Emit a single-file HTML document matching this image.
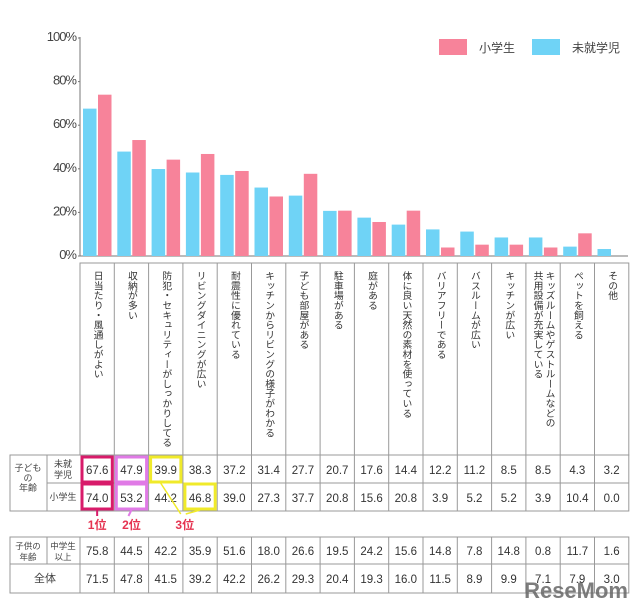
<!DOCTYPE html>
<html><head><meta charset="utf-8">
<style>
body{margin:0;background:#fff;}
svg text{font-family:"Liberation Sans","Noto Sans CJK JP",sans-serif;}
.vt{writing-mode:vertical-rl;font-size:9.8px;fill:#333;}
</style></head>
<body>
<svg id="c" width="640" height="605" viewBox="0 0 640 605" xmlns="http://www.w3.org/2000/svg"></svg>
<script>
const categories=["日当たり・風通しがよい","収納が多い","防犯・セキュリティーがしっかりしてる","リビングダイニングが広い","耐震性に優れている","キッチンからリビングの様子がわかる","子ども部屋がある","駐車場がある","庭がある","体に良い天然の素材を使っている","バリアフリーである","バスルームが広い","キッチンが広い","キッズルームやゲストルームなどの|共用設備が充実している","ペットを飼える","その他"];
const preschool=[67.6,47.9,39.9,38.3,37.2,31.4,27.7,20.7,17.6,14.4,12.2,11.2,8.5,8.5,4.3,3.2];
const elementary=[74.0,53.2,44.2,46.8,39.0,27.3,37.7,20.8,15.6,20.8,3.9,5.2,5.2,3.9,10.4,0.0];
const juniorHigh=[75.8,44.5,42.2,35.9,51.6,18.0,26.6,19.5,24.2,15.6,14.8,7.8,14.8,0.8,11.7,1.6];
const overall=[71.5,47.8,41.5,39.2,42.2,26.2,29.3,20.4,19.3,16.0,11.5,8.9,9.9,7.1,7.9,3.0];
const yTicks=[0,20,40,60,80,100];
const yTickLabels=["0%","20%","40%","60%","80%","100%"];

const svg=document.getElementById('c');
const NS='http://www.w3.org/2000/svg';
const X0=80,CW=34.3,Y0=256,YH=218;
const xCol=i=>X0+i*CW;
const yv=v=>Y0-v/100*YH;
function mk(tag,attrs,parent){const e=document.createElementNS(NS,tag);for(const k in attrs)e.setAttribute(k,attrs[k]);(parent||svg).appendChild(e);return e;}
function txt(x,y,s,attrs){const e=mk('text',Object.assign({x:x,y:y},attrs||{}));e.textContent=s;return e;}
const BLUE='#6fd3f6',PINK='#f7839a',LINE='#999';

let ax=mk('line',{x1:X0,y1:37,x2:X0,y2:Y0,stroke:'#777','stroke-width':1});


yTicks.forEach((t,i)=>{
  let tk=txt(X0-4,yv(t)+3,yTickLabels[i],{'text-anchor':'end','font-size':'13px',fill:'#444','letter-spacing':'-1px'});
  
  
  mk('line',{x1:X0-2,y1:yv(t),x2:X0,y2:yv(t),stroke:'#777'});
});
let bl=mk('line',{x1:X0,y1:Y0,x2:628,y2:Y0,stroke:'#777','stroke-width':1});



categories.forEach((c,i)=>{
  const x=xCol(i);
  let b=mk('rect',{x:x+3,y:yv(preschool[i]),width:13.5,height:Y0-yv(preschool[i]),fill:BLUE});
  
  
  let p=mk('rect',{x:x+18,y:yv(elementary[i]),width:13.5,height:Y0-yv(elementary[i]),fill:PINK});
  
  
});

let lg=mk('g',{});


mk('rect',{x:439,y:39,width:28,height:16,fill:PINK},lg);
txt(479,52,'小学生',{'font-size':'12px',fill:'#444'});
mk('rect',{x:532,y:39,width:28,height:16,fill:BLUE},lg);
txt(572,52,'未就学児',{'font-size':'12px',fill:'#444'});

mk('rect',{x:X0,y:263,width:CW*16,height:192,fill:'none',stroke:LINE});
categories.forEach((c,i)=>{
  const x=xCol(i);
  if(i>0)mk('line',{x1:x,y1:263,x2:x,y2:511,stroke:LINE});
  const parts=c.split('|');
  parts.forEach((p,j)=>{
    let t=txt(x+CW/2+(parts.length>1?(j===0?6:-6):0),271,p,{class:'vt'});
    
    
  });
});

mk('rect',{x:10,y:455,width:X0+CW*16-10,height:56,fill:'none',stroke:LINE});
mk('line',{x1:47,y1:455,x2:47,y2:511,stroke:LINE});
mk('line',{x1:47,y1:483,x2:X0+CW*16,y2:483,stroke:LINE});
txt(28,471,'子ども',{'text-anchor':'middle','font-size':'9px',fill:'#444'});
txt(28,481,'の',{'text-anchor':'middle','font-size':'9px',fill:'#444'});
txt(28,491,'年齢',{'text-anchor':'middle','font-size':'9px',fill:'#444'});
txt(63,467,'未就',{'text-anchor':'middle','font-size':'9px',fill:'#444'});
txt(63,478,'学児',{'text-anchor':'middle','font-size':'9px',fill:'#444'});
txt(63,500,'小学生',{'text-anchor':'middle','font-size':'9px',fill:'#444'});
categories.forEach((c,i)=>{
  const cx=xCol(i)+CW/2;
  let a=txt(cx,474,preschool[i].toFixed(1),{'text-anchor':'middle','font-size':'11.5px',fill:'#333'});
  
  
  let b=txt(cx,502,elementary[i].toFixed(1),{'text-anchor':'middle','font-size':'11.5px',fill:'#333'});
  
  
});
function hl(col,row,color){let r=mk('rect',{x:xCol(col)+2,y:(row?484:457),width:CW-4,height:25,fill:'none',stroke:color,'stroke-width':3});}
hl(0,0,'#d81b6a');hl(0,1,'#d81b6a');hl(1,0,'#e07ae6');hl(1,1,'#e07ae6');hl(2,0,'#f0ea2a');hl(3,1,'#f0ea2a');
mk('line',{x1:xCol(0)+CW/2,y1:510,x2:xCol(0)+CW/2,y2:516,stroke:'#d81b6a','stroke-width':2});
mk('line',{x1:xCol(1)+CW/2,y1:510,x2:xCol(1)+CW/2-3,y2:516,stroke:'#e07ae6','stroke-width':2});
mk('line',{x1:xCol(2)+12,y1:483,x2:xCol(2)+CW/2+15,y2:514,stroke:'#f0ea2a','stroke-width':1.5});
mk('line',{x1:xCol(3)+CW/2,y1:510,x2:xCol(2)+CW/2+20,y2:514,stroke:'#f0ea2a','stroke-width':1.5});
txt(xCol(0)+CW/2,529,'1位',{'text-anchor':'middle','font-size':'12px','font-weight':'bold',fill:'#e53350'});
txt(xCol(1)+CW/2,529,'2位',{'text-anchor':'middle','font-size':'12px','font-weight':'bold',fill:'#e53350'});
txt(xCol(2)+CW/2+19,529,'3位',{'text-anchor':'middle','font-size':'12px','font-weight':'bold',fill:'#e53350'});

mk('rect',{x:10,y:537,width:X0+CW*16-10,height:56,fill:'none',stroke:LINE});
mk('line',{x1:10,y1:564,x2:X0+CW*16,y2:564,stroke:LINE});
mk('line',{x1:47,y1:537,x2:47,y2:564,stroke:LINE});
mk('line',{x1:X0,y1:537,x2:X0,y2:593,stroke:LINE});
txt(28,549,'子供の',{'text-anchor':'middle','font-size':'8.5px',fill:'#444'});
txt(28,560,'年齢',{'text-anchor':'middle','font-size':'8.5px',fill:'#444'});
txt(63,549,'中学生',{'text-anchor':'middle','font-size':'8.5px',fill:'#444'});
txt(63,560,'以上',{'text-anchor':'middle','font-size':'8.5px',fill:'#444'});
txt(45,582,'全体',{'text-anchor':'middle','font-size':'11px',fill:'#444'});
categories.forEach((c,i)=>{
  const x=xCol(i),cx=x+CW/2;
  if(i>0)mk('line',{x1:x,y1:537,x2:x,y2:593,stroke:LINE});
  let a=txt(cx,555,juniorHigh[i].toFixed(1),{'text-anchor':'middle','font-size':'11.5px',fill:'#333'});
  
  
  let b=txt(cx,583,overall[i].toFixed(1),{'text-anchor':'middle','font-size':'11.5px',fill:'#333'});
  
  
});
let wm=txt(628,598,'ReseMom',{'text-anchor':'end','font-size':'22px','font-weight':'bold',fill:'#666','fill-opacity':'0.85'});


</script>
</body></html>
